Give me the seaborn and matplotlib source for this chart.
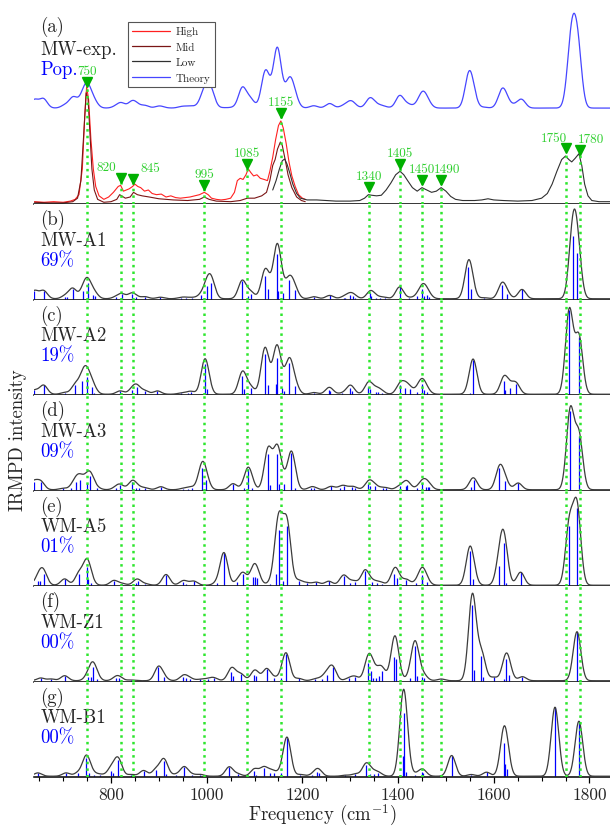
import numpy as np
import matplotlib
matplotlib.use('Agg')
import matplotlib.pyplot as plt
from matplotlib.lines import Line2D
from matplotlib.ticker import MultipleLocator
import seaborn as sns

# ---- experimental IRMPD traces (panel a), intensity relative to the 750 band
high_freq = [640, 660, 680, 700, 715, 725, 733, 740, 745, 749, 753, 758, 763, 768, 775, 785,
             795, 805, 815, 820, 826, 832, 838, 845, 850, 856, 862, 870, 878, 886, 895, 905,
             915, 925, 935, 945, 955, 965, 975, 985, 995, 1003, 1010, 1020, 1030, 1040, 1050,
             1058, 1064, 1070, 1076, 1082, 1087, 1092, 1098, 1105, 1112, 1120, 1127, 1132, 1138,
             1144, 1150, 1155, 1160, 1166, 1172, 1178, 1185, 1192, 1200, 1206]
high_int = [0.02, 0.015, 0.02, 0.015, 0.025, 0.04, 0.08, 0.3, 0.75, 1.0, 0.9, 0.55, 0.3, 0.15,
            0.07, 0.04, 0.06, 0.1, 0.15, 0.16, 0.11, 0.12, 0.13, 0.15, 0.17, 0.15, 0.14, 0.11,
            0.12, 0.09, 0.08, 0.085, 0.06, 0.07, 0.055, 0.05, 0.055, 0.06, 0.07, 0.08, 0.1,
            0.08, 0.05, 0.04, 0.035, 0.04, 0.05, 0.1, 0.2, 0.22, 0.21, 0.25, 0.3, 0.27, 0.24,
            0.25, 0.22, 0.21, 0.2, 0.28, 0.4, 0.55, 0.67, 0.71, 0.65, 0.52, 0.36, 0.24, 0.15,
            0.08, 0.05, 0.04]

mid_freq = [640, 670, 700, 720, 730, 737, 743, 748, 752, 756, 760, 765, 772, 785, 800, 812,
            818, 822, 830, 840, 847, 855, 865, 880, 900, 930, 960, 985, 995, 1005, 1020, 1050,
            1070, 1085, 1100, 1115, 1125, 1132, 1138, 1143, 1148, 1154, 1158, 1164, 1170, 1178,
            1188, 1198, 1206]
mid_int = [0.015, 0.01, 0.01, 0.02, 0.05, 0.2, 0.6, 0.95, 0.9, 0.6, 0.3, 0.12, 0.04, 0.015,
           0.02, 0.04, 0.08, 0.07, 0.05, 0.06, 0.1, 0.08, 0.07, 0.06, 0.045, 0.035, 0.03, 0.04,
           0.06, 0.04, 0.025, 0.02, 0.03, 0.05, 0.05, 0.07, 0.1, 0.2, 0.33, 0.38, 0.47, 0.53,
           0.5, 0.38, 0.25, 0.14, 0.06, 0.03, 0.02]

low_freq = [1138, 1145, 1152, 1158, 1163, 1168, 1174, 1180, 1188, 1196, 1210, 1230, 1250, 1270,
            1300, 1320, 1330, 1338, 1345, 1355, 1365, 1375, 1385, 1395, 1404, 1412, 1420, 1430,
            1440, 1450, 1460, 1470, 1480, 1490, 1500, 1510, 1520, 1535, 1560, 1575, 1588, 1600,
            1620, 1650, 1680, 1700, 1712, 1722, 1732, 1742, 1750, 1757, 1763, 1770, 1778, 1784,
            1790, 1797, 1805, 1820, 1843]
low_int = [0.12, 0.2, 0.3, 0.37, 0.385, 0.34, 0.26, 0.17, 0.09, 0.05, 0.035, 0.035, 0.03, 0.025,
           0.025, 0.03, 0.05, 0.08, 0.075, 0.07, 0.075, 0.12, 0.18, 0.25, 0.28, 0.25, 0.2, 0.14,
           0.11, 0.14, 0.12, 0.1, 0.11, 0.14, 0.11, 0.065, 0.04, 0.03, 0.03, 0.035, 0.045, 0.035,
           0.03, 0.025, 0.03, 0.05, 0.09, 0.17, 0.28, 0.38, 0.41, 0.38, 0.36, 0.39, 0.43, 0.33,
           0.17, 0.07, 0.03, 0.02, 0.02]

# assigned experimental bands
band_freq = [750, 820, 845, 995, 1085, 1155, 1340, 1405, 1450, 1490, 1750, 1780]

# ---- computed stick spectra (frequency in cm-1, intensity arb.)
a1_freq = [640, 659, 703, 707, 720, 742, 751, 763, 767, 810, 822, 843, 852, 871, 903, 946, 956,
           970, 988, 1001, 1010, 1074, 1087, 1093, 1121, 1128, 1147, 1149, 1159, 1173, 1184,
           1224, 1257, 1286, 1289, 1299, 1305, 1310, 1342, 1344, 1353, 1362, 1372, 1403, 1422,
           1440, 1451, 1455, 1461, 1464, 1547, 1553, 1580, 1617, 1627, 1659, 1765, 1775]
a1_int = [8, 8, 1.7, 1.5, 10, 7.3, 15.7, 4, 2.3, 1.5, 4.7, 5, 1.5, 2, 1.5, 1, 1, 1, 3.3, 13,
          16, 17.7, 2.3, 5, 22.3, 10, 45, 7.7, 6, 18.3, 9, 2, 3.3, 1, 1, 3.3, 2.3, 1, 5.5, 2.3,
          1, 1, 1, 11.7, 1, 2.3, 10, 2.3, 3.3, 1.7, 31.7, 9.3, 1, 14, 5, 9.3, 62.3, 46]

a2_freq = [640, 659, 703, 725, 740, 749, 760, 765, 819, 844, 854, 871, 897, 946, 960, 968, 996,
           1001, 1074, 1079, 1092, 1121, 1128, 1144, 1147, 1157, 1162, 1173, 1185, 1224, 1255,
           1258, 1283, 1299, 1303, 1337, 1342, 1354, 1359, 1366, 1404, 1415, 1424, 1440, 1449,
           1454, 1461, 1550, 1557, 1621, 1624, 1635, 1647, 1758, 1778]
a2_int = [4, 9, 1.7, 9, 13.3, 17.7, 7.7, 1.7, 3.3, 4.3, 7.7, 3.3, 3.3, 1, 1, 2.3, 30.7, 5.7,
          18.3, 5, 6.7, 40, 9, 10, 36, 6, 3.3, 31.7, 8.3, 1.7, 4, 3, 1, 6, 3.3, 7.7, 5, 2.7,
          2.7, 1.7, 9.3, 6.7, 5, 2.7, 10, 4, 2.7, 1.7, 34, 13.3, 4, 6, 10, 84, 57.3]

a3_freq = [638, 653, 699, 717, 726, 736, 749, 757, 771, 810, 819, 844, 852, 858, 871, 904, 950,
           960, 969, 990, 998, 1055, 1078, 1087, 1095, 1128, 1132, 1147, 1151, 1161, 1177, 1184,
           1219, 1224, 1260, 1279, 1286, 1303, 1310, 1338, 1342, 1352, 1368, 1375, 1403, 1417,
           1419, 1440, 1451, 1458, 1462, 1465, 1553, 1558, 1612, 1623, 1651, 1760, 1778]
a3_int = [8, 8, 1.3, 1.3, 8, 10, 6.7, 13.3, 1.7, 1.7, 4.7, 8, 1.7, 1.3, 1.7, 3, 1, 1, 2, 22,
          9.3, 6, 2, 20.3, 2, 36, 5, 36, 6, 6, 36.7, 1.7, 2, 1.3, 3.3, 1.3, 3.3, 2.3, 1.3, 5.7,
          3.3, 3.3, 1.3, 1.3, 3.3, 4, 4.7, 1.3, 7, 2.3, 2.3, 2.3, 2.3, 10, 21.3, 9, 6.7, 79, 54]

a5_freq = [647, 652, 659, 703, 733, 749, 752, 758, 806, 823, 852, 856, 872, 915, 950, 956, 973,
           1021, 1036, 1064, 1076, 1097, 1100, 1106, 1132, 1145, 1151, 1159, 1168, 1192, 1209,
           1229, 1255, 1286, 1300, 1310, 1331, 1345, 1357, 1366, 1392, 1398, 1417, 1438, 1449,
           1451, 1460, 1550, 1557, 1612, 1621, 1626, 1656, 1758, 1774]
a5_int = [4.7, 4.7, 11.7, 6.3, 11.7, 18, 6.3, 2.3, 4.7, 1.7, 2.3, 4, 1.3, 10.7, 3.3, 1.7, 4,
          2.3, 32.3, 3, 11.7, 8.3, 8.3, 7.3, 1.7, 11.7, 55.7, 4, 59.7, 4.7, 2.3, 3, 4, 9.7,
          2.3, 3, 14.7, 3.3, 2.3, 1.7, 11.7, 7.3, 5.7, 2.3, 5, 10.7, 3.3, 34.7, 6.3, 19.7,
          42.3, 2.3, 13, 59.7, 77.3]

z1_freq = [653, 675, 703, 751, 758, 763, 771, 810, 817, 842, 899, 910, 950, 956, 966, 987, 1003,
           1015, 1051, 1055, 1071, 1099, 1103, 1125, 1140, 1156, 1166, 1192, 1227, 1240, 1251,
           1263, 1297, 1310, 1337, 1343, 1347, 1354, 1361, 1367, 1392, 1395, 1424, 1435, 1440,
           1451, 1455, 1490, 1555, 1558, 1574, 1578, 1600, 1621, 1626, 1632, 1660, 1774]
z1_int = [2.7, 1.7, 5, 3.3, 4, 13.3, 1.7, 2.7, 3, 0.7, 13.3, 3.3, 3.3, 2.7, 1.7, 1.3, 1.7, 2.7,
          8.3, 5, 6.7, 6, 5, 11.7, 2.7, 2.7, 26.7, 2.3, 1.7, 1.7, 6, 13.3, 2.3, 4, 17.3, 9.3,
          2.7, 2.7, 5, 9.3, 24, 21.7, 2.7, 34.3, 5, 3.3, 2.7, 1.7, 75.7, 10.7, 24.3, 3.3, 3.3,
          1.7, 21.7, 6, 4, 49]

b1_freq = [647, 706, 731, 748, 754, 764, 777, 799, 805, 815, 842, 868, 894, 910, 915, 936, 953,
           969, 987, 1047, 1065, 1099, 1103, 1119, 1132, 1140, 1156, 1168, 1196, 1220, 1231,
           1234, 1290, 1311, 1333, 1342, 1349, 1359, 1410, 1412, 1417, 1435, 1449, 1453, 1512,
           1553, 1585, 1621, 1624, 1627, 1728, 1778]
b1_int = [3.3, 3.3, 3.3, 18.3, 3, 1.7, 1.7, 5.7, 3.3, 16.7, 1.7, 5.7, 6.7, 15, 2.3, 1.7, 9.3,
          1.7, 1.7, 9.3, 2.3, 5.7, 1.7, 8.3, 3.3, 3.3, 3.3, 38, 1.7, 1, 4.3, 3.3, 1, 2.3, 11.7,
          2.3, 2.3, 3.3, 20.7, 63.3, 4.3, 1.7, 4, 3.3, 20.7, 1.7, 4, 33, 12, 7.3, 69, 55]

conf_names = ['MW-A1', 'MW-A2', 'MW-A3', 'WM-A5', 'WM-Z1', 'WM-B1']
conf_pops = [69, 19, 9, 1, 0, 0]
panel_tags = ['(a)', '(b)', '(c)', '(d)', '(e)', '(f)', '(g)']
sticks = [(a1_freq, a1_int), (a2_freq, a2_int), (a3_freq, a3_int),
          (a5_freq, a5_int), (z1_freq, z1_int), (b1_freq, b1_int)]

# ---- styling
sns.set_theme(style='ticks')
plt.rcParams['font.family'] = ['cmr10', 'DejaVu Serif']
plt.rcParams['mathtext.fontset'] = 'cm'
plt.rcParams['axes.unicode_minus'] = False

XMIN, XMAX = 639, 1843
grid = np.linspace(XMIN, XMAX, 2400)


def broaden(freq, inten, sigma=8.0):
    f = np.asarray(freq, float)[:, None]
    i = np.asarray(inten, float)[:, None]
    return (i * np.exp(-(grid[None, :] - f) ** 2 / (2 * sigma ** 2))).sum(axis=0)


curves = [broaden(f, i) for f, i in sticks]
pop_curve = sum(p / 100 * c for p, c in zip(conf_pops, curves))
pop_curve = pop_curve / pop_curve.max()

GREEN_LINE = '#2ee62e'
GREEN_MARK = '#00b000'
GREEN_TEXT = '#2fcf2f'
BLUE = '#0000ff'

fig = plt.figure(figsize=(6.1, 8.29), dpi=100)
gs = fig.add_gridspec(7, 1, height_ratios=[2.147, 1, 1, 1, 1, 1, 1], hspace=0,
                      left=34 / 610, right=1.0, top=1.0, bottom=51 / 829)
axes = [fig.add_subplot(gs[i]) for i in range(7)]

for k, ax in enumerate(axes):
    ax.set_xlim(XMIN, XMAX)
    for s in ['top', 'left', 'right']:
        ax.spines[s].set_visible(False)
    ax.spines['bottom'].set_linewidth(1.1)
    ax.spines['bottom'].set_color('black')
    ax.set_yticks([])
    ax.xaxis.set_major_locator(MultipleLocator(200))
    ax.xaxis.set_minor_locator(MultipleLocator(50))
    ax.tick_params(axis='x', which='major', direction='out', length=4.5, width=0.9,
                   color='black', labelsize=12.5, pad=2.5, bottom=True)
    ax.tick_params(axis='x', which='minor', direction='out', length=2.8, width=0.8,
                   color='black', bottom=True)
    if k < 6:
        ax.tick_params(axis='x', labelbottom=False)
    ax.set_xlabel('')
    ax.set_ylabel('')

# ---- panel (a): experiment + population-weighted theory
ax = axes[0]
ax.set_ylim(0, 205 / 117)
sns.lineplot(x=grid, y=0.82 + 0.81 * pop_curve, ax=ax, color='#4646ff', lw=0.9)
sns.lineplot(x=high_freq, y=high_int, ax=ax, color='#ff2020', lw=0.8)
sns.lineplot(x=mid_freq, y=mid_int, ax=ax, color='#7a1515', lw=0.8)
sns.lineplot(x=low_freq, y=low_int, ax=ax, color='#303030', lw=0.8)

label_shift = {820: -10, 845: 13, 1490: 4, 1750: -8, 1780: 8}
for f in band_freq:
    top = max(np.interp(f, xs, ys, left=0, right=0)
              for xs, ys in [(high_freq, high_int), (mid_freq, mid_int), (low_freq, low_int)])
    ym = top + 0.065
    ax.vlines(f, 0, ym, color=GREEN_LINE, ls=':', lw=1.8, zorder=4)
    ax.plot(f, ym, marker='v', color=GREEN_MARK, ms=7, mec=GREEN_MARK, zorder=6)
    ax.annotate(str(f), (f, ym), xytext=(label_shift.get(f, 0), 3.5),
                textcoords='offset points', ha='center', va='bottom',
                fontsize=9.5, color=GREEN_TEXT)

ax.text(0.011, 0.845, '(a)', transform=ax.transAxes, fontsize=13.5, va='baseline')
ax.text(0.011, 0.732, 'MW-exp.', transform=ax.transAxes, fontsize=13.5, va='baseline')
ax.text(0.011, 0.634, 'Pop.', transform=ax.transAxes, fontsize=13.5, va='baseline', color=BLUE)

handles = [Line2D([], [], color='#ff2020', lw=0.9, label='High'),
           Line2D([], [], color='#7a1515', lw=0.9, label='Mid'),
           Line2D([], [], color='#303030', lw=0.9, label='Low'),
           Line2D([], [], color='#4646ff', lw=0.9, label='Theory')]
leg = ax.legend(handles=handles, loc='upper left', bbox_to_anchor=(0.163, 0.888),
                borderaxespad=0, fontsize=8, handlelength=3.4, labelspacing=0.5,
                frameon=True, fancybox=False, framealpha=1, edgecolor='#555555',
                borderpad=0.4, handletextpad=0.5)
leg.get_frame().set_linewidth(0.8)
leg.set_zorder(10)

# ---- panels (b)-(g): conformer stick spectra
for k, (ax, (sf, si), curve) in enumerate(zip(axes[1:], sticks, curves)):
    ax.set_ylim(-0.8, 94.7)
    ax.vlines(sf, 0, si, color=BLUE, lw=0.9, zorder=2)
    sns.lineplot(x=grid, y=curve, ax=ax, color='#3c3c3c', lw=0.9, zorder=3)
    for f in band_freq:
        ax.axvline(f, color=GREEN_LINE, ls=':', lw=1.8, zorder=4)
    ax.text(0.011, 0.79, panel_tags[k + 1], transform=ax.transAxes, fontsize=13.5,
            va='baseline')
    ax.text(0.011, 0.574, conf_names[k], transform=ax.transAxes, fontsize=13.5,
            va='baseline')
    ax.text(0.011, 0.364, f'{conf_pops[k]:02d}%', transform=ax.transAxes, fontsize=13.5,
            va='baseline', color=BLUE)

axes[-1].set_xlabel('Frequency (cm$^{-1}$)', fontsize=13.5, labelpad=0)
fig.text(18 / 610, 1 - 440 / 829, 'IRMPD intensity', rotation=90, ha='center',
         va='center', fontsize=13.5)

fig.savefig('out.png', dpi=100)
